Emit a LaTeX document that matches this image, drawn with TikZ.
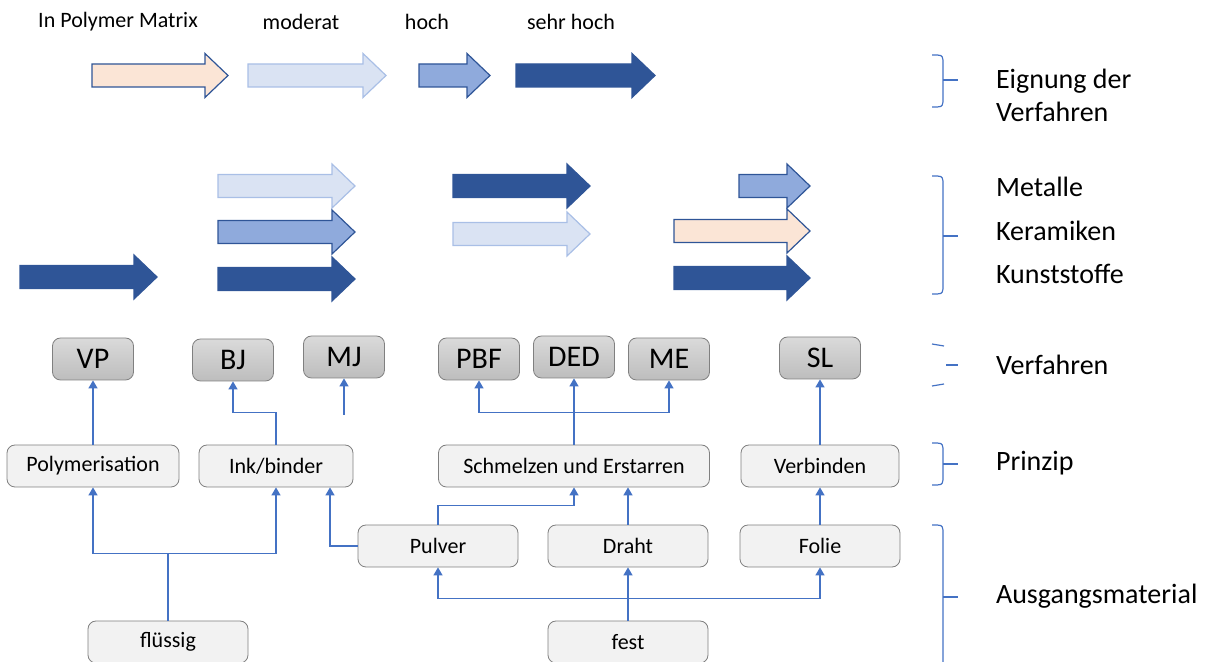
\documentclass[tikz,border=0pt]{standalone}
\usepackage{fontspec}
\setmainfont{Carlito}
\usepackage{xcolor}
\definecolor{cDark}{HTML}{2F5597}
\definecolor{cMid}{HTML}{8FAADC}
\definecolor{cPale}{HTML}{DAE3F3}
\definecolor{cPaleLine}{HTML}{A9BFE6}
\definecolor{cPeach}{HTML}{FBE5D6}
\definecolor{cLink}{HTML}{4472C4}
\definecolor{cBoxLine}{HTML}{808080}
\definecolor{cBoxFill}{HTML}{F2F2F2}
\definecolor{cGrayTop}{HTML}{DADADA}
\definecolor{cGrayBot}{HTML}{BDBDBD}
\usetikzlibrary{arrows.meta}
\tikzset{
  verf/.style={draw=cBoxLine,rounded corners=4pt,top color=cGrayTop,
    bottom color=cGrayBot,minimum width=40.5pt,minimum height=21pt,
    inner sep=0pt,font=\fontsize{15}{18}\selectfont},
  prinz/.style={draw=cBoxLine,fill=cBoxFill,rounded corners=4pt,
    minimum height=21pt,inner sep=0pt,font=\fontsize{11}{13}\selectfont},
  conn/.style={draw=cLink,line width=0.75pt,-{Triangle[length=4pt,width=4.5pt]}},
  arr-dark/.style={draw=cDark,fill=cDark,line width=0.6pt},
  arr-mid/.style={draw=cDark,fill=cMid,line width=0.6pt},
  arr-pale/.style={draw=cPaleLine,fill=cPale,line width=0.6pt},
  arr-peach/.style={draw=cDark,fill=cPeach,line width=0.6pt},
  klammer/.style={draw=cLink,line width=0.6pt},
  legend/.style={anchor=west,font=\fontsize{14}{16.5}\selectfont,align=left},
  grade/.style={font=\fontsize{11}{13}\selectfont},
}
% block arrow: style, left x, tip x, centre y
\newcommand{\blockpfeil}[4]{%
  \draw[#1] (#2,#4-11.5) -- (#3-23,#4-11.5) -- (#3-23,#4-22) -- (#3,#4)
    -- (#3-23,#4+22) -- (#3-23,#4+11.5) -- (#2,#4+11.5) -- cycle;}
% brace on the right: top y, bottom y, tip y
\newcommand{\klammer}[3]{%
  \draw[klammer] (932,#1) .. controls (942,#1) .. (943,#1+5)
    -- (943,#2-5) .. controls (942,#2) .. (932,#2);
  \draw[klammer] (943,#3) -- (958,#3);}

\begin{document}
\begin{tikzpicture}[x=0.5pt,y=-0.5pt]
  \useasboundingbox (0,0) rectangle (1212,662);

  % Eignung der Verfahren
  \node[grade] (gpoly) at (118,22) {In Polymer Matrix};
  \node[grade] (gmod) at (301,22) {moderat};
  \node[grade] (ghoch) at (427,22) {hoch};
  \node[grade] (gsehr) at (571,22) {sehr hoch};
  \blockpfeil{arr-peach}{92}{228}{75.5}
  \blockpfeil{arr-pale}{248}{386}{75.5}
  \blockpfeil{arr-mid}{419}{490}{75.5}
  \blockpfeil{arr-dark}{516}{655}{75.5}

  % Metalle / Keramiken / Kunststoffe
  \blockpfeil{arr-dark}{20}{157}{277}
  \blockpfeil{arr-pale}{218}{355}{186}
  \blockpfeil{arr-mid}{218}{355}{232}
  \blockpfeil{arr-dark}{218}{355}{279}
  \blockpfeil{arr-dark}{453}{590}{186}
  \blockpfeil{arr-pale}{453}{590}{234}
  \blockpfeil{arr-mid}{739}{810}{186}
  \blockpfeil{arr-peach}{674}{810}{231}
  \blockpfeil{arr-dark}{674}{810}{278}

  % Verfahren
  \node[verf] (vp) at (93,359) {VP};
  \node[verf] (bj) at (233,360) {BJ};
  \node[verf] (mj) at (344,357) {MJ};
  \node[verf] (pbf) at (479,359) {PBF};
  \node[verf] (ded) at (574,357) {DED};
  \node[verf] (me) at (669,359) {ME};
  \node[verf] (sl) at (820,358) {SL};

  % Prinzip
  \node[prinz,minimum width=86pt] (poly) at (93,466) {Polymerisation};
  \node[prinz,minimum width=77pt] (ink) at (276,466) {Ink/binder};
  \node[prinz,minimum width=135.5pt] (schm) at (574,466) {Schmelzen und Erstarren};
  \node[prinz,minimum width=79pt] (verb) at (820,466) {Verbinden};

  % Ausgangsmaterial
  \node[prinz,minimum width=80pt] (pul) at (438,546) {Pulver};
  \node[prinz,minimum width=80pt] (dr) at (628,546) {Draht};
  \node[prinz,minimum width=80pt] (fo) at (820,546) {Folie};
  \node[prinz,minimum width=80pt] (fl) at (168,642) {flüssig};
  \node[prinz,minimum width=80pt] (fe) at (628,642) {fest};

  % connectors
  \draw[conn] (poly.north) -- (vp.south);
  \draw[conn] (ink.north) -- ++(0,-32) -| (bj.south);
  \coordinate (mjfrei) at (344,415);
  \draw[conn] (mjfrei) -- (mj.south);
  \draw[conn] (schm.north) -- ++(0,-32) coordinate (sj) -| (pbf.south);
  \draw[conn] (sj) -| (me.south);
  \draw[conn] (schm.north) -- (ded.south);
  \draw[conn] (verb.north) -- (sl.south);
  \draw[conn] (fl.north) -- ++(0,-67) coordinate (flj) -| (poly.south);
  \draw[conn] (flj) -| (ink.south);
  \draw[conn] (pul.west) -| ([xshift=27pt]ink.south);
  \draw[conn] (pul.north) -- ++(0,-19) -| (schm.south);
  \draw[conn] (dr.north) -- (dr.north |- schm.south);
  \draw[conn] (fo.north) -- (verb.south);
  \draw[conn] (fe.north) -- (dr.south);
  \draw[conn] (fe.north) -- ++(0,-22) coordinate (fej) -| (pul.south);
  \draw[conn] (fej) -| (fo.south);

  % braces and legend
  \klammer{55}{107}{80}
  \klammer{176}{294}{236}
  \draw[klammer] (932,344) -- (944,346);
  \draw[klammer] (946,365) -- (958,365);
  \draw[klammer] (932,386) -- (944,384);
  \klammer{443}{485}{464}
  \draw[klammer] (932,525) .. controls (942,525) .. (943,530) -- (943,662);
  \draw[klammer] (943,597) -- (958,597);
  \node[legend] (leig) at (989,95) {Eignung der\\Verfahren};
  \node[legend] (lmet) at (989,187) {Metalle};
  \node[legend] (lker) at (989,231) {Keramiken};
  \node[legend] (lkun) at (989,274) {Kunststoffe};
  \node[legend] (lverf) at (989,365) {Verfahren};
  \node[legend] (lpri) at (989,463) {Prinzip};
  \node[legend] (laus) at (989,596) {Ausgangsmaterial};
\end{tikzpicture}
\end{document}
